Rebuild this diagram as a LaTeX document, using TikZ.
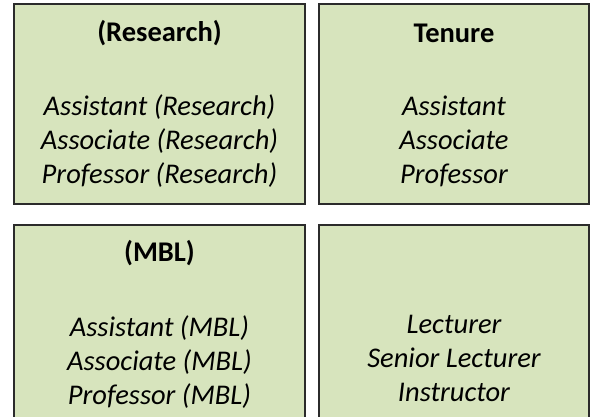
\documentclass[tikz,border=0pt]{standalone}
\usepackage{fontspec}
\setmainfont{Carlito}
\usepackage{xcolor}
\usetikzlibrary{positioning}
\definecolor{boxgreen}{HTML}{D7E4BD}
\definecolor{boxedge}{HTML}{2B2B2B}
\tikzset{%
	rankbox/.style  = {draw=boxedge, fill=boxgreen, line width=1.3pt, rectangle, inner sep=0pt},
	title/.style    = {font=\fontsize{28.5}{34}\selectfont\bfseries},
	ranks/.style    = {font=\fontsize{28.5}{34}\selectfont\itshape, align=center},
}

\begin{document}
\begin{tikzpicture}[x=1pt,y=-1pt]
	\useasboundingbox (0,0) rectangle (592,417);
	\node[rankbox, minimum width=291pt, minimum height=200pt] (research) at (159.5,104) {};
	\node[rankbox, minimum width=270pt, minimum height=200pt] (tenure) at (454,104) {};
	\node[rankbox, minimum width=291pt, minimum height=200pt] (mbl) at (159.5,325) {};
	\node[rankbox, minimum width=270pt, minimum height=200pt] (lecturer) at (454,325) {};
	
	\node[title] (researchtitle) at (159.5,33) {(Research)};
	\node[ranks] (researchranks) at (159.5,141) {Assistant (Research)\\Associate (Research)\\Professor (Research)};
	\node[title] (tenuretitle) at (454,33) {Tenure};
	\node[ranks] (tenureranks) at (454,141) {Assistant\\Associate\\Professor};
	\node[title] (mbltitle) at (159.5,253) {(MBL)};
	\node[ranks] (mblranks) at (159.5,362) {Assistant (MBL)\\Associate (MBL)\\Professor (MBL)};
	\node[ranks] (lecturerranks) at (454,358) {Lecturer\\Senior Lecturer\\Instructor};
\end{tikzpicture}
\end{document}
